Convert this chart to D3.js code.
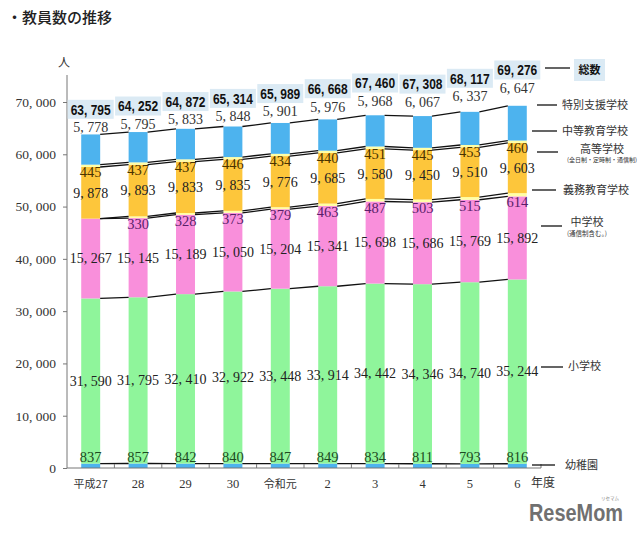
<!DOCTYPE html>
<html><head><meta charset="utf-8">
<script src="https://cdn.jsdelivr.net/npm/d3@7"></script>
<style>
html,body{margin:0;padding:0;background:#fff;}
svg{display:block;}
</style></head>
<body>
<svg id="chart" width="640" height="535"></svg>
<script>
// ---- data ----
const years = ["平成27","28","29","30","令和元","2","3","4","5","6"];
const kindergarten = [837, 857, 842, 840, 847, 849, 834, 811, 793, 816];          // 幼稚園
const elementary   = [31590, 31795, 32410, 32922, 33448, 33914, 34442, 34346, 34740, 35244]; // 小学校
const juniorHigh   = [15267, 15145, 15189, 15050, 15204, 15341, 15698, 15686, 15769, 15892]; // 中学校
const compulsory   = [0, 330, 328, 373, 379, 463, 487, 503, 515, 614];             // 義務教育学校
const highSchool   = [9878, 9893, 9833, 9835, 9776, 9685, 9580, 9450, 9510, 9603];  // 高等学校
const secondary    = [445, 437, 437, 446, 434, 440, 451, 445, 453, 460];           // 中等教育学校
const special      = [5778, 5795, 5833, 5848, 5901, 5976, 5968, 6067, 6337, 6647];  // 特別支援学校
const totals       = [63795, 64252, 64872, 65314, 65989, 66668, 67460, 67308, 68117, 69276]; // 総数
const yTicks = [0, 10000, 20000, 30000, 40000, 50000, 60000, 70000];

const keys = ["kindergarten","elementary","juniorHigh","compulsory","highSchool","secondary","special"];
const seriesArrays = {kindergarten, elementary, juniorHigh, compulsory, highSchool, secondary, special};
const table = years.map((yr, i) => {
  const row = {year: yr};
  keys.forEach(k => row[k] = seriesArrays[k][i]);
  row.total = totals[i];
  return row;
});

const colors = {
  kindergarten: "#4db3ee",
  elementary: "#8ff59b",
  juniorHigh: "#f98fdb",
  compulsory: "#ffffa6",
  highSchool: "#fdc63b",
  secondary: "#ffffa6",
  special: "#4db3ee"
};

const svg = d3.select("#chart");
const serif = "'Liberation Serif','DejaVu Serif',serif";
const jp = "'Noto Sans CJK JP','Noto Sans',sans-serif";

const x = d3.scaleBand().domain(years).range([67, 541]).paddingInner(0.6).paddingOuter(0.3);
const y = d3.scaleLinear().domain([0, 70000]).range([468, 102]);
// label scale for totals (labels staggered upward)
const yLab = d3.scaleLinear().domain([60000, 70000]).range([136.5, 64.8]);

const stacked = d3.stack().keys(keys)(table);

// Title
svg.append("text").attr("x", 7).attr("y", 23)
  .attr("font-family", jp).attr("font-size", 15).attr("font-weight", 500).attr("fill", "#222")
  .text("・教員数の推移");

// Y axis
const yAxis = d3.axisLeft(y).tickValues(yTicks).tickSize(4).tickPadding(7)
  .tickFormat(d => d3.format(",")(d).replace(",", ", "));
const gy = svg.append("g").attr("transform", "translate(67,0)").call(yAxis);
gy.select(".domain").remove();
gy.selectAll(".tick line").attr("stroke", "#777");
gy.selectAll(".tick text").attr("font-family", serif).attr("font-size", 13.5).attr("fill", "#333");
svg.append("line").attr("x1", 67).attr("x2", 67).attr("y1", 75).attr("y2", 468).attr("stroke", "#777").attr("stroke-width", 1);
svg.append("text").attr("x", 64).attr("y", 67).attr("text-anchor", "middle")
  .attr("font-family", jp).attr("font-size", 12).attr("fill", "#333").text("人");

// Bars
stacked.forEach(s => {
  svg.append("g").selectAll("rect").data(s).join("rect")
    .attr("x", d => x(d.data.year))
    .attr("width", x.bandwidth())
    .attr("y", d => y(d[1]))
    .attr("height", d => Math.max(0, y(d[0]) - y(d[1])))
    .attr("fill", colors[s.key]);
});

// Series lines
stacked.forEach(s => {
  const g = svg.append("g");
  for (let i = 0; i < years.length - 1; i++) {
    g.append("line")
      .attr("x1", x(years[i]) + x.bandwidth()).attr("y1", y(s[i][1]))
      .attr("x2", x(years[i + 1])).attr("y2", y(s[i + 1][1]))
      .attr("stroke", "#111").attr("stroke-width", 1.3);
  }
});

// X axis
const xAxisY = 468;
svg.append("line").attr("x1", 67).attr("x2", 541).attr("y1", xAxisY).attr("y2", xAxisY).attr("stroke", "#777");
years.forEach((yr, i) => {
  const bx = x(yr) - (x.step() * x.paddingInner()) / 2 + x.step();
  svg.append("line").attr("x1", bx).attr("x2", bx).attr("y1", xAxisY).attr("y2", xAxisY - 4).attr("stroke", "#777");
});
svg.append("g").selectAll("text").data(years).join("text")
  .attr("x", d => x(d) + x.bandwidth() / 2).attr("y", 488)
  .attr("text-anchor", "middle")
  .attr("font-family", d => /^\d+$/.test(d) ? serif : jp)
  .attr("font-size", d => /^\d+$/.test(d) ? 12.5 : 11)
  .attr("fill", "#333")
  .text(d => d);
svg.append("text").attr("x", 531).attr("y", 487).attr("font-family", jp).attr("font-size", 12).attr("fill", "#333").text("年度");

// Segment labels
const fmt = v => d3.format(",")(v).replace(",", ", ");
const cx = d => x(d.data.year) + x.bandwidth() / 2;
function labels(data, yFn, txt, color, size) {
  svg.append("g").selectAll("text").data(data).join("text")
    .attr("x", cx).attr("y", yFn).attr("dy", "0.35em")
    .attr("text-anchor", "middle")
    .attr("font-family", serif).attr("font-size", size || 14)
    .attr("fill", color).text(txt);
}
const S = Object.fromEntries(stacked.map(s => [s.key, s]));
labels(S.kindergarten, d => y(d[1]) - 7, d => fmt(d[1] - d[0]), "#1d4a22", 14.5);
labels(S.elementary, d => (y(d[0]) + y(d[1])) / 2, d => fmt(d[1] - d[0]), "#222");
labels(S.juniorHigh, d => (y(d[0]) + y(d[1])) / 2, d => fmt(d[1] - d[0]), "#222");
labels(S.compulsory.filter(d => d[1] - d[0] > 0), d => y(d[0]) + 6, d => fmt(d[1] - d[0]), "#5a1f6a", 14.5);
labels(S.highSchool, d => (y(d[0]) + y(d[1])) / 2, d => fmt(d[1] - d[0]), "#222");
labels(S.secondary, d => y(d[0]) + 5, d => fmt(d[1] - d[0]), "#4a3300", 14.5);
labels(S.special, d => yLab(d.data.total) + 18, d => fmt(d[1] - d[0]), "#333");

// Totals in boxes
const tg = svg.append("g").selectAll("g").data(table).join("g")
  .attr("transform", d => `translate(${x(d.year) + x.bandwidth() / 2},${yLab(d.total)})`);
tg.append("rect").attr("x", -23).attr("y", -9.5).attr("width", 46).attr("height", 19).attr("fill", "#dbeaf4");
tg.append("text").attr("text-anchor", "middle").attr("dy", "0.36em")
  .attr("font-family", "'Liberation Sans Narrow','Liberation Sans',Arial,sans-serif")
  .attr("font-weight", "bold").attr("font-size", 14.5).attr("fill", "#111")
  .attr("textLength", 40).attr("lengthAdjust", "spacingAndGlyphs")
  .text(d => fmt(d.total));

// Legend
const leg = svg.append("g").attr("font-family", jp).attr("fill", "#333");
function legLine(x1, x2, yy) {
  leg.append("line").attr("x1", x1).attr("x2", x2).attr("y1", yy).attr("y2", yy).attr("stroke", "#111").attr("stroke-width", 1.3);
}
function legText(tx, ty, t, size, anchor) {
  leg.append("text").attr("x", tx).attr("y", ty).attr("dy", "0.35em").attr("font-size", size)
    .attr("text-anchor", anchor || "start").text(t);
}
// 総数
legLine(545, 570, 68);
leg.append("rect").attr("x", 574).attr("y", 59).attr("width", 31).attr("height", 22).attr("fill", "#dbeaf4");
leg.append("text").attr("x", 589.5).attr("y", 70).attr("dy", "0.35em").attr("text-anchor", "middle")
  .attr("font-size", 11).attr("font-weight", "bold").attr("fill", "#111").text("総数");
legLine(537, 557, 105); legText(562, 105, "特別支援学校", 11);
legLine(532, 557, 131); legText(562, 131, "中等教育学校", 11);
legLine(537, 558, 152); legText(602, 149, "高等学校", 11, "middle");
legText(602, 160, "(全日制・定時制・通信制)", 6, "middle");
legLine(532, 556, 190); legText(563, 190, "義務教育学校", 11);
legLine(541, 562, 226); legText(587, 222, "中学校", 11, "middle");
legText(587, 234, "(通信制含む。)", 6.5, "middle");
legLine(541, 563, 367); legText(568, 366, "小学校", 11);
legLine(532, 555, 465); legText(565, 465, "幼稚園", 11);

// Watermark
svg.append("text").attr("x", 529).attr("y", 521)
  .attr("font-family", "'Liberation Sans Narrow','Liberation Sans',Arial,sans-serif")
  .attr("font-weight", "bold").attr("font-size", 23).attr("fill", "#707070")
  .attr("textLength", 94).attr("lengthAdjust", "spacingAndGlyphs")
  .text("ReseMom");
svg.append("text").attr("x", 610).attr("y", 500).attr("text-anchor", "middle")
  .attr("font-family", jp).attr("font-size", 4.5).attr("fill", "#888").text("リセマム");
</script>
</body></html>
